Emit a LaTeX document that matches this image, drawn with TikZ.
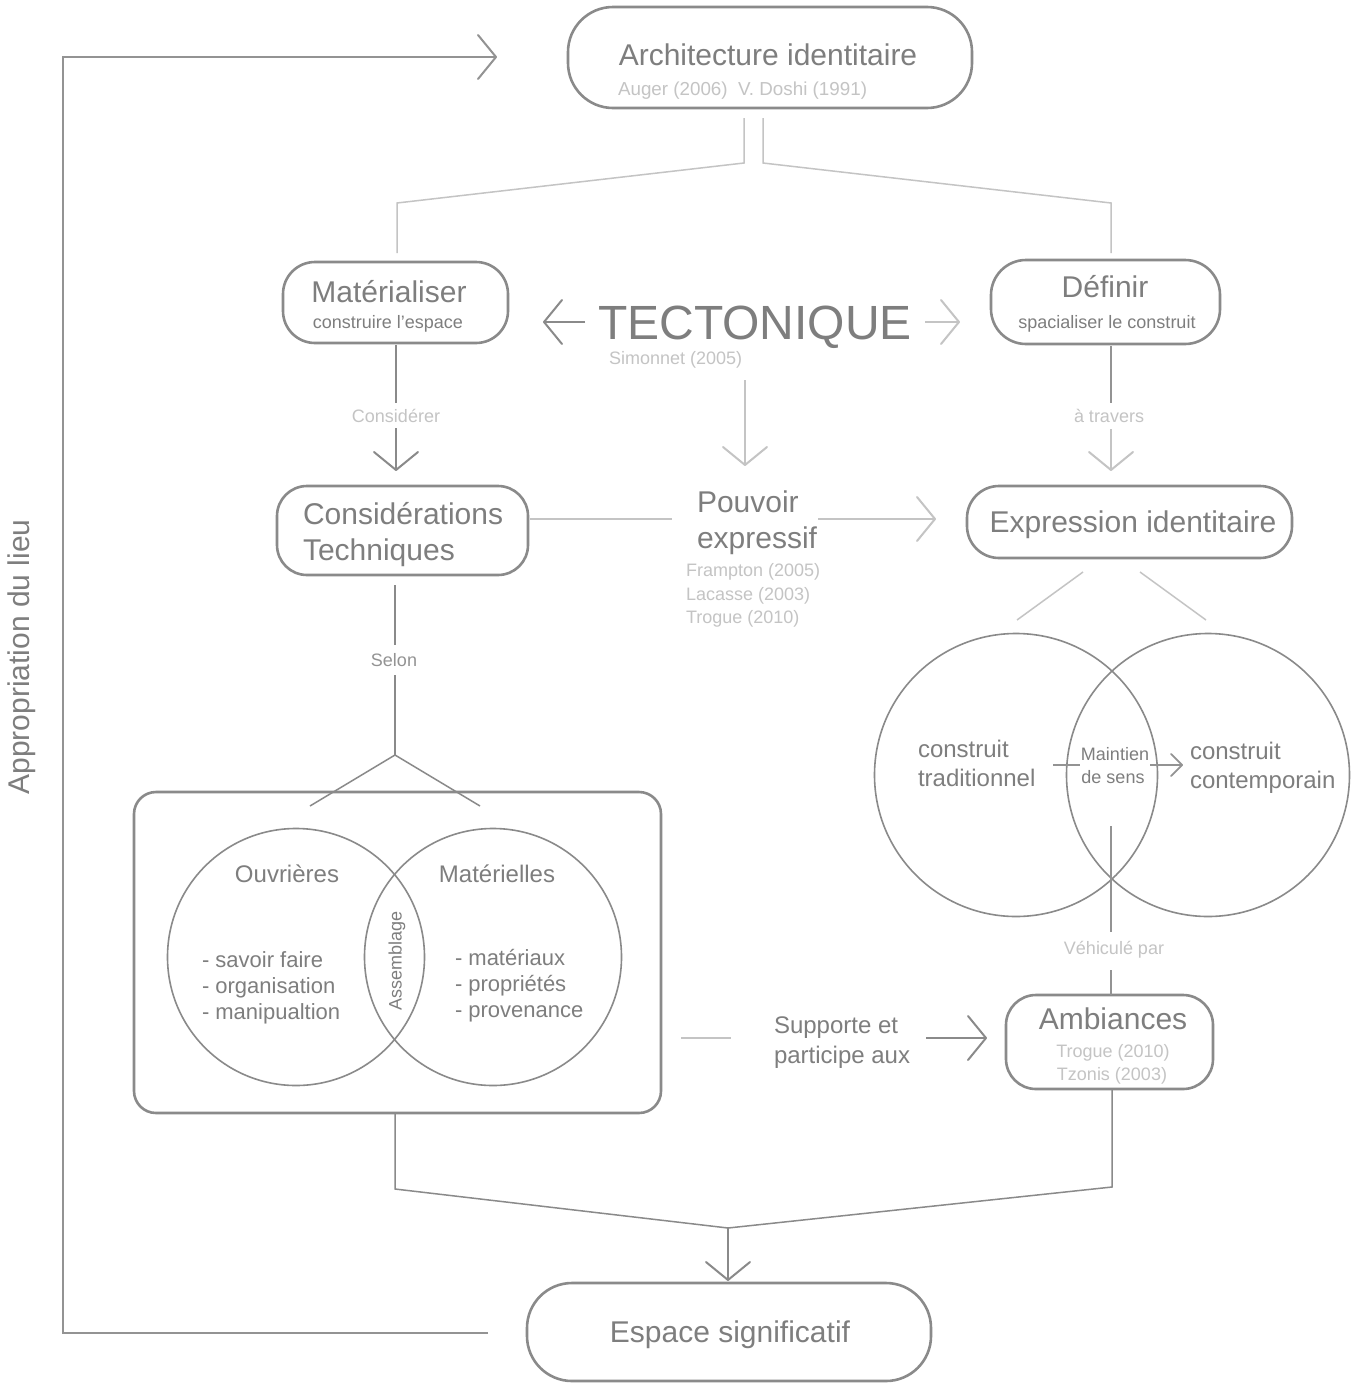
\documentclass[tikz,border=0pt]{standalone}
\usepackage{fontspec}
\setmainfont{Liberation Sans}
\usetikzlibrary{arrows.meta,calc}
\definecolor{tx}{HTML}{7E7E7E}
\definecolor{bx}{HTML}{8A8A8A}
\definecolor{lt}{HTML}{C4C4C4}
\definecolor{md}{HTML}{939393}
\begin{document}
\begin{tikzpicture}[x=1pt,y=-1pt,
  every node/.style={inner sep=0pt,outer sep=0pt,text=tx},
  box/.style={draw=bx,line width=2.6pt,rounded corners=#1},
  circ/.style={draw=bx,line width=1.6pt,circle},
  big/.style={font=\fontsize{30}{36}\selectfont},
  mid/.style={font=\fontsize{24}{29}\selectfont},
  lst/.style={font=\fontsize{22}{26}\selectfont},
  sml/.style={font=\fontsize{18}{22}\selectfont},
  refc/.style={sml,text=lt},
  dk/.style={draw=bx,line width=1.5pt},
  lg/.style={draw=lt,line width=1.5pt},
  ml/.style={draw=md,line width=1.5pt},
  tipd/.style={-{Straight Barb[length=18pt,width=44pt,line width=2pt,round]}},
  tips/.style={-{Straight Barb[length=11pt,width=22pt,line width=1.8pt,round]}},
]
\useasboundingbox (0,0) rectangle (1361,1384);
\fill[white] (0,0) rectangle (1361,1384);

% ---------- boxes
\node[box=45,minimum width=404pt,minimum height=101pt] (arch) at (770,57.5) {};
\node[box=32,minimum width=225pt,minimum height=81pt] (mat) at (395.5,302.5) {};
\node[box=35,minimum width=229pt,minimum height=84pt] (def) at (1105.5,302) {};
\node[box=30,minimum width=251pt,minimum height=89pt] (cons) at (402.5,530.5) {};
\node[box=32,minimum width=325pt,minimum height=72pt] (expr) at (1129.5,522) {};
\node[box=30,minimum width=207pt,minimum height=94pt] (amb) at (1109.5,1042) {};
\node[box=22,minimum width=527pt,minimum height=321pt] (grp) at (397.5,952.5) {};
\node[box=45,minimum width=404pt,minimum height=98pt] (esp) at (729,1332) {};

% ---------- texts
\node[big,anchor=base] (archT) at (768,65) {Architecture identitaire};
\node[refc,anchor=base west,font=\fontsize{18.8}{22}\selectfont] (archR) at (618,95) {Auger (2006)\ \ V. Doshi (1991)};
\node[big,anchor=base] (matT) at (389,302) {Matérialiser};
\node[sml,anchor=base] (matS) at (388,328) {construire l'espace};
\node[big,anchor=base] (defT) at (1105,297) {Définir};
\node[sml,anchor=base] (defS) at (1107,328) {spacialiser le construit};
\node[font=\fontsize{48}{56}\selectfont,anchor=base] (tect) at (755,339) {TECTONIQUE};
\node[refc,anchor=base west] (simo) at (609,364) {Simonnet (2005)};
\node[refc,anchor=base] (consid) at (396,422) {Considérer};
\node[refc,anchor=base] (atr) at (1109,422) {à travers};
\node[big,anchor=base west] (consT) at (303,524) {Considérations};
\node[big,anchor=base west] (consT2) at (303,560) {Techniques};
\node[big,anchor=base west] (pouv) at (697,512) {Pouvoir};
\node[big,anchor=base west] (expf) at (697,548) {expressif};
\node[refc,anchor=base west] (r1) at (686,576) {Frampton (2005)};
\node[refc,anchor=base west] (r2) at (686,600) {Lacasse (2003)};
\node[refc,anchor=base west] (r3) at (686,623) {Trogue (2010)};
\node[big,anchor=base] (exprT) at (1133,532) {Expression identitaire};

% ---------- right Venn
\node[circ,minimum size=283pt] (ctl) at (1016,775) {};
\node[circ,minimum size=283pt] (ctr) at (1208,775) {};
\node[mid,anchor=base west] (v1) at (918,757) {construit};
\node[mid,anchor=base west] (v2) at (918,786) {traditionnel};
\node[mid,anchor=base west] (v3) at (1190,759) {construit};
\node[mid,anchor=base west] (v4) at (1190,788) {contemporain};
\node[sml,anchor=base] (mt1) at (1115,760) {Maintien};
\node[sml,anchor=base] (mt2) at (1113,783) {de sens};
\node[refc,anchor=base] (veh) at (1114,954) {Véhiculé par};

% ---------- ambiances
\node[big,anchor=base] (ambT) at (1113,1029) {Ambiances};
\node[refc,anchor=base] (ambR1) at (1113,1057) {Trogue (2010)};
\node[refc,anchor=base] (ambR2) at (1112,1080) {Tzonis (2003)};
\node[mid,anchor=base west] (sup1) at (774,1033) {Supporte et};
\node[mid,anchor=base west] (sup2) at (774,1063) {participe aux};

% ---------- left group
\node[sml,anchor=base,text=md] (selon) at (394,666) {Selon};
\node[circ,minimum size=257pt] (cl) at (296,957) {};
\node[circ,minimum size=257pt] (cr) at (493,957) {};
\node[mid,anchor=base] (ouv) at (287,882) {Ouvrières};
\node[mid,anchor=base] (matl) at (497,882) {Matérielles};
\node[lst,anchor=base west] (l1) at (202,967) {- savoir faire};
\node[lst,anchor=base west] (l2) at (202,993) {- organisation};
\node[lst,anchor=base west] (l3) at (202,1019) {- manipualtion};
\node[lst,anchor=base west] (m1) at (455,965) {- matériaux};
\node[lst,anchor=base west] (m2) at (455,991) {- propriétés};
\node[lst,anchor=base west] (m3) at (455,1017) {- provenance};
\node[sml,rotate=90] (asm) at (397,961) {Assemblage};

\node[big,anchor=base] (espT) at (730,1342) {Espace significatif};
\node[big,rotate=90] (appr) at (22,657) {Appropriation du lieu};

% ---------- coordinates
\coordinate (loopS) at (488,1333);
\coordinate (loopA) at (63,1333);
\coordinate (loopB) at (63,57);
\coordinate (loopE) at (497,57);
\coordinate (a1) at (744,118);
\coordinate (a2) at (744,163);
\coordinate (a3) at (397,203);
\coordinate (a4) at (397,253);
\coordinate (b1) at (763,118);
\coordinate (b2) at (763,163);
\coordinate (b3) at (1111,203);
\coordinate (b4) at (1111,253);
\coordinate (tl1) at (585,322);
\coordinate (tl2) at (543,322);
\coordinate (tr1) at (925,322);
\coordinate (tr2) at (960,322);
\coordinate (td1) at (745,380);
\coordinate (td2) at (745,466);
\coordinate (m1a) at (396,345);
\coordinate (m1b) at (396,403);
\coordinate (m2a) at (396,428);
\coordinate (m2b) at (396,471);
\coordinate (d1a) at (1111,346);
\coordinate (d1b) at (1111,403);
\coordinate (d2a) at (1111,429);
\coordinate (d2b) at (1111,471);
\coordinate (p0) at (530,519);
\coordinate (p1) at (672,519);
\coordinate (p2) at (818,519);
\coordinate (p3) at (936,519);
\coordinate (c1a) at (395,585);
\coordinate (c1b) at (395,645);
\coordinate (c2a) at (395,675);
\coordinate (sel1) at (395,755);
\coordinate (sel2) at (310,806);
\coordinate (sel3) at (480,806);
\coordinate (vl1) at (1053,765);
\coordinate (vl2) at (1080,765);
\coordinate (vr1) at (1150,765);
\coordinate (vr2) at (1183,765);
\coordinate (vv1) at (1111,826);
\coordinate (vv2) at (1111,932);
\coordinate (vv3) at (1111,970);
\coordinate (vv4) at (1111,995);
\coordinate (e1) at (1083,572);
\coordinate (e2) at (1017,620);
\coordinate (e3) at (1140,572);
\coordinate (e4) at (1206,620);
\coordinate (s1) at (681,1038);
\coordinate (s2) at (731,1038);
\coordinate (s3) at (926,1038);
\coordinate (s4) at (987,1038);
\coordinate (g0) at (395,1114);
\coordinate (g1) at (395,1189);
\coordinate (h0) at (1112,1090);
\coordinate (g2) at (1112,1187);
\coordinate (mg) at (728,1228);
\coordinate (mgE) at (728,1281);

% ---------- connectors
\draw[ml,tipd] (loopS) -- (loopA) -- (loopB) -- (loopE);
\draw[lg] (a1) -- (a2) -- (a3) -- (a4);
\draw[lg] (b1) -- (b2) -- (b3) -- (b4);
\draw[dk,tipd] (tl1) -- (tl2);
\draw[lg,tipd] (tr1) -- (tr2);
\draw[lg,tipd] (td1) -- (td2);
\draw[dk] (m1a) -- (m1b);
\draw[dk,tipd] (m2a) -- (m2b);
\draw[ml] (d1a) -- (d1b);
\draw[lg,tipd] (d2a) -- (d2b);
\draw[lg] (p0) -- (p1);
\draw[lg,tipd] (p2) -- (p3);
\draw[lg] (e1) -- (e2);
\draw[lg] (e3) -- (e4);
\draw[ml] (vl1) -- (vl2);
\draw[ml,tips] (vr1) -- (vr2);
\draw[ml] (vv1) -- (vv2);
\draw[ml] (vv3) -- (vv4);
\draw[dk] (c1a) -- (c1b);
\draw[dk] (c2a) -- (sel1);
\draw[dk] (sel2) -- (sel1) -- (sel3);
\draw[lg] (s1) -- (s2);
\draw[dk,tipd] (s3) -- (s4);
\draw[dk] (g0) -- (g1) -- (mg);
\draw[dk] (h0) -- (g2) -- (mg);
\draw[dk,tipd] (mg) -- (mgE);
\end{tikzpicture}
\end{document}
